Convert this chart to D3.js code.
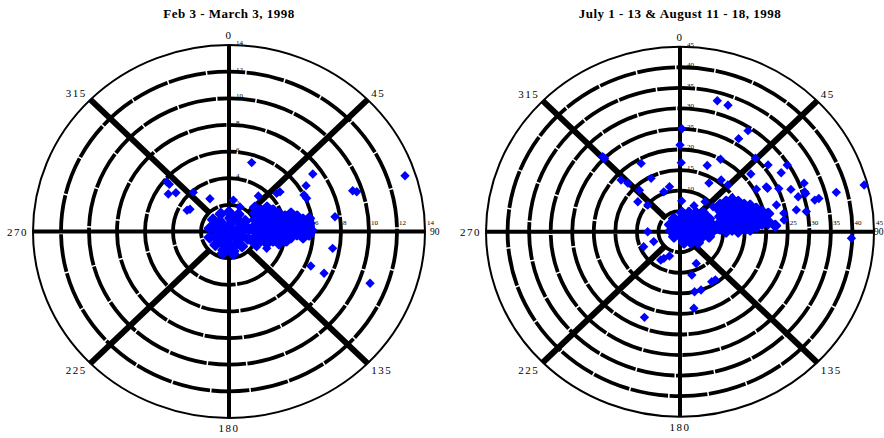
<!DOCTYPE html>
<html lang="en">
<head>
<meta charset="UTF-8">
<title>Polar scatter, 1998</title>
<script src="https://d3js.org/d3.v7.min.js"></script>
<style>
  body { margin: 0; background: #fff; }
  text { font-family: "Liberation Serif", "Times New Roman", serif; fill: #000; }
</style>
</head>
<body>
<div id="chart"></div>
<script>
var width = 884, height = 438;

var angleTicks = [0, 45, 90, 135, 180, 225, 270, 315];
var febRings = [2, 4, 6, 8, 10, 12, 14];
var julRings = [5, 10, 15, 20, 25, 30, 35, 40, 45];
var febTitle = "Feb 3 - March 3, 1998";
var julTitle = "July 1 - 13 & August 11 - 18, 1998";

// [direction (deg), value]
var febOutliers = [
  [71.6,13.25],[17.4,5.42],[54.2,7.38],[70.9,9.35],[71.9,9.6],[58,6.49],[81.7,7.65],[99.7,7.51],
  [113.9,6.39],[114.8,7.48],[111.1,10.8],[310,5.81],[309.7,5.54],[303,5.17],[307.5,4.78],[319,3.89],
  [331,2.81],[301,3.25],[298,3.39],[38.2,3.39],[49.9,4.45],[50.8,4.7],[7.5,2.38],[62.9,6.02],
  [65.8,6.08],[84,5.89],[89,5.98],[91.4,5.79],[82.2,4.59],[115,2.97],[120,2.28],[101,4.2],[23,2.0]
];
var febCluster = [
  [40,0.2],[200,0.25],
  [10,0.6],[75,0.65],[130,0.6],[185,0.6],[245,0.65],[310,0.6],
  [5,1.0],[40,1.05],[75,1.0],[110,1.0],[145,1.05],[180,1.0],[215,1.0],[250,1.05],[285,1.0],[320,1.0],
  [0,1.45],[28,1.45],[56,1.4],[84,1.45],[112,1.45],[140,1.45],[168,1.5],[196,1.45],[224,1.4],
  [252,1.45],[280,1.4],[308,1.45],[336,1.45],[170,1.7],[195,1.7],
  [115.9,2.06],[103.6,1.91],[90,1.86],[76.4,1.91],[64.1,2.06],[54,2.3],[45.9,2.59],
  [106.5,2.38],[95.6,2.3],[84.4,2.3],[73.5,2.38],[63.7,2.55],[55.4,2.78],
  [108.3,2.86],[99.4,2.75],[90,2.71],[80.6,2.75],[71.7,2.86],[63.6,3.03],[56.4,3.26],
  [102.2,3.22],[94.2,3.15],[85.8,3.15],[77.8,3.22],[70.2,3.34],[63.3,3.52],
  [104.1,3.68],[97.2,3.6],[90,3.57],[82.8,3.6],[75.9,3.68],[69.3,3.82],
  [99.6,4.06],[93.3,4.01],[86.7,4.01],[80.4,4.06],[74.2,4.16],
  [95.8,4.45],[90,4.43],[84.2,4.45],[78.5,4.52],[73,4.63],
  [92.7,4.86],[87.3,4.86],[82,4.9],[76.9,4.99],
  [94.9,5.31],[90,5.29],[85.1,5.31],[80.3,5.36],
  [92.3,5.72],[86.2,5.73],[80.3,5.8]
];

var julOutliers = [
  [75.1,44.2],[92.3,39.8],[75.2,37.5],[15.2,33],[19.9,32.7],[32.7,29.2],[31,26.4],[1,25.05],
  [0,21.1],[1,16.8],[315.5,25.6],[315.6,25],[331.5,18.9],[28.1,19.96],[21.4,17.3],[44.4,25],
  [51.5,26.1],[56.9,29.7],[58.6,27.5],[49.5,21.6],[59.8,20.5],[61.4,22.8],[62.5,22.9],[65.4,25.2],
  [68.2,27.7],[67.7,31.1],[72.8,28.7],[72.3,30.6],[71.4,30.5],[76.2,32.2],[75.9,33.2],[78.9,27.5],
  [80.5,29.7],[73.8,23.3],[79.4,24.5],[83.3,24.3],[85.5,20.5],[87.2,16.4],
  [312.6,18.57],[314.3,16.9],[317,13.8],[332.7,14.6],[306.7,12.2],[311,9.9],[338.8,10.4],[347.4,11.2],
  [3,7.5],[270,7.5],[248.5,6.55],[246.5,9.2],[210,7.5],[202.4,6.4],[213,8.2],[165.4,10.9],
  [167,15],[161,15],[148.8,14.2],[145,14.3],[170.2,18.9],[201.6,22.4],[154,8.6],[37.2,15.8],
  [44.3,15.9],[29.6,13.6],[38.5,9.33],[51.6,9.79],[27.2,7.12]
];
var julCluster = [
  [5.8,4.64],[24.3,5.07],[38.8,5.93],[49.2,7.07],
  [336.1,3.46],[4.2,3.17],[30.5,3.67],[47.8,4.71],[58.3,6.02],[64.9,7.44],
  [306.1,2.88],[337.6,1.84],[28.7,1.94],[56.4,3.07],[67.9,4.52],[73.7,6.05],[77.1,7.63],
  [276.6,2.1],[297,0.53],[78.3,1.18],[85.1,2.8],[86.9,4.43],[87.7,6.05],[88.2,7.67],
  [228.9,1.86],[169.3,1.24],[123.3,2.22],[109.3,3.7],[103.4,5.26],[100.3,6.85],
  [160.9,2.84],[136.3,3.71],[122.6,4.97],
  [85.5,9.33],[76.7,9.55],[68.6,9.99],[61.2,10.61],[54.8,11.39],
  [90,10.7],[82.2,10.8],[74.7,11.09],[67.7,11.56],[61.4,12.19],[55.7,12.95],
  [87.7,12.1],[80.8,12.25],[74.2,12.56],[68.1,13.03],[62.4,13.65],[57.2,14.38],
  [90,13.49],[83.8,13.57],[77.8,13.8],[72,14.18],[66.6,14.7],[61.6,15.34],
  [87.2,14.9],[81.6,15.04],[76.2,15.32],[71,15.73],[66.2,16.27],
  [88.3,16.29],[83.2,16.4],[78.2,16.63],[73.3,16.99],[68.7,17.47],
  [86.1,17.71],[81.4,17.87],[76.8,18.15],[72.4,18.54],
  [84.2,19.17],[79.9,19.37],[75.7,19.68],
  [83.2,20.61],[77.9,20.93],[86.2,22.14]
];

var panels = [
  { title: febTitle, rings: febRings, outliers: febOutliers, cluster: febCluster, cx: 229, cy: 231.5, rx: 196, ry: 186.5 },
  { title: julTitle, rings: julRings, outliers: julOutliers, cluster: julCluster, cx: 680, cy: 231.7, rx: 194, ry: 185 }
];

var svg = d3.select('#chart').append('svg')
  .attr('width', width)
  .attr('height', height)
  .style('display', 'block')
  .style('background', '#fff');

var ang = d3.scaleLinear().domain([0, 360]).range([0, 2 * Math.PI]);
var diamond = d3.symbol().type(d3.symbolSquare).size(44);

panels.forEach(function(p) {
  var g = svg.append('g');
  var max = d3.max(p.rings);
  var sx = d3.scaleLinear().domain([0, max]).range([0, p.rx]);
  var sy = d3.scaleLinear().domain([0, max]).range([0, p.ry]);
  var px = function(a, r) { return p.cx + sx(r) * Math.sin(ang(a)); };
  var py = function(a, r) { return p.cy - sy(r) * Math.cos(ang(a)); };

  // title
  g.append('text')
    .attr('x', p.cx)
    .attr('y', 18)
    .attr('text-anchor', 'middle')
    .style('font-size', '13px')
    .style('font-weight', 'bold')
    .style('letter-spacing', '0.5px')
    .text(p.title);

  // rings
  g.selectAll('ellipse.ring')
    .data(p.rings)
    .enter().append('ellipse')
      .attr('class', 'ring')
      .attr('cx', p.cx)
      .attr('cy', p.cy)
      .attr('rx', d => sx(d))
      .attr('ry', d => sy(d))
      .attr('fill', 'none')
      .attr('stroke', '#000')
      .attr('stroke-width', d => d === max ? 2 : 3.8)
      .attr('stroke-dasharray', d => d === max ? null : '38 1.5');

  // spokes
  g.selectAll('line.spoke')
    .data(angleTicks)
    .enter().append('line')
      .attr('class', 'spoke')
      .attr('x1', d => px(d, d % 90 ? p.rings[0] : 0))
      .attr('y1', d => py(d, d % 90 ? p.rings[0] : 0))
      .attr('x2', d => px(d, max))
      .attr('y2', d => py(d, max))
      .attr('stroke', '#000')
      .attr('stroke-width', d => d % 90 ? 6 : 4);

  // angle labels
  g.selectAll('text.angle')
    .data(angleTicks)
    .enter().append('text')
      .attr('class', 'angle')
      .attr('x', d => {
        var s = Math.sin(ang(d));
        var x = p.cx + (p.rx + (Math.abs(s) < 0.01 ? 0 : 5)) * s;
        return Math.min(x, width - 10);
      })
      .attr('y', d => p.cy - (p.ry + 10) * Math.cos(ang(d)))
      .attr('text-anchor', d => d === 0 || d === 180 ? 'middle' : (d < 180 ? 'start' : 'end'))
      .attr('dominant-baseline', 'central')
      .style('font-size', d => d === 90 ? '9.5px' : '11px')
      .style('letter-spacing', d => d === 90 ? '0px' : '1.5px')
      .text(d => d);

  // ring value labels along 0 and 90
  g.selectAll('text.rv')
    .data(p.rings)
    .enter().append('text')
      .attr('class', 'rv')
      .attr('x', p.cx + 7)
      .attr('y', d => p.cy - sy(d) - 2)
      .attr('dominant-baseline', 'central')
      .style('font-size', '7px')
      .text(d => d);
  g.selectAll('text.rh')
    .data(p.rings)
    .enter().append('text')
      .attr('class', 'rh')
      .attr('x', d => p.cx + sx(d) + 2)
      .attr('y', p.cy - 9)
      .attr('dominant-baseline', 'central')
      .style('font-size', '7px')
      .text(d => d);

  // dense cluster near the centre, then the scattered points
  g.selectAll('path.cl')
    .data(p.cluster)
    .enter().append('path')
      .attr('class', 'cl')
      .attr('d', diamond)
      .attr('transform', d => 'translate(' + px(d[0], d[1]) + ',' + py(d[0], d[1]) + ') rotate(45)')
      .attr('fill', '#0000ff')
      .attr('stroke', '#0000ff')
      .attr('stroke-width', 2.5)
      .attr('stroke-linejoin', 'round');

  g.selectAll('path.pt')
    .data(p.outliers)
    .enter().append('path')
      .attr('class', 'pt')
      .attr('d', diamond)
      .attr('transform', d => 'translate(' + px(d[0], d[1]) + ',' + py(d[0], d[1]) + ') rotate(45)')
      .attr('fill', '#0000ff');
});
</script>
</body>
</html>
